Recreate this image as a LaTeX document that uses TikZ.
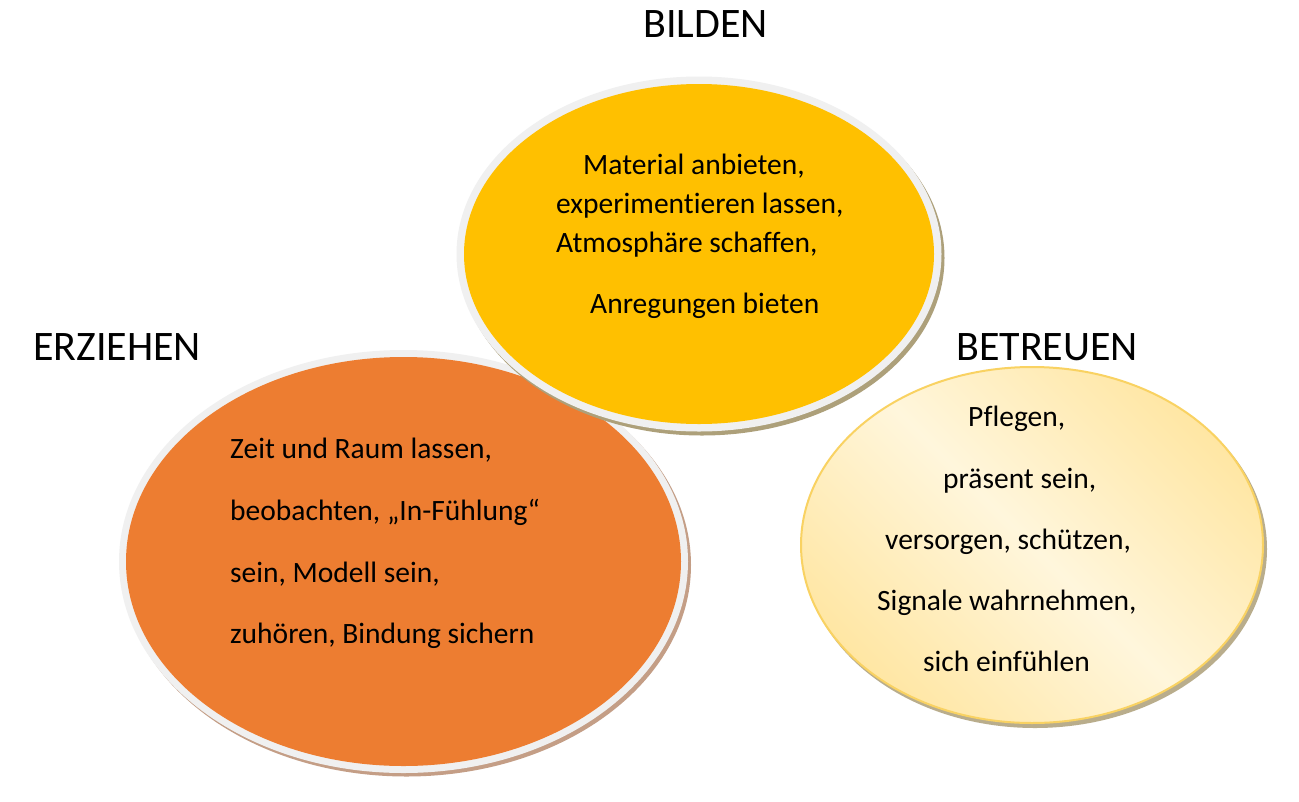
\documentclass[tikz,border=0pt]{standalone}
\usepackage{fontspec}
\setmainfont{Carlito}[Ligatures={NoCommon}]
\usetikzlibrary{shapes.geometric}
\definecolor{erzorange}{HTML}{ED7D31}
\definecolor{bildgold}{HTML}{FFC000}
\definecolor{rimgray}{HTML}{F0F0F0}
\definecolor{erzshadow}{HTML}{C49E86}
\definecolor{bildshadow}{HTML}{ADA07A}
\definecolor{betrshadow}{HTML}{B9AD8C}
\definecolor{betrline}{HTML}{F9D262}
\definecolor{betrdark}{HTML}{FFE294}
\definecolor{betrlight}{HTML}{FFF6DC}
\pgfdeclareverticalshading{betrshade}{100bp}{color(0bp)=(betrdark); color(18bp)=(betrdark); color(50bp)=(betrlight); color(82bp)=(betrdark); color(100bp)=(betrdark)}
\tikzset{
  blob/.style={ellipse, inner sep=0pt, outer sep=0pt, draw=none},
  title/.style={anchor=base west, inner sep=0pt, font=\fontsize{42}{50}\selectfont},
  line/.style={anchor=base west, inner sep=0pt, font=\fontsize{29.5}{35}\selectfont},
}
\begin{document}
\begin{tikzpicture}[x=1pt,y=-1pt]
\useasboundingbox[fill=white] (0,0) rectangle (1299,801);

% ERZIEHEN ellipse
\fill[erzshadow] (406.5,565) ellipse [x radius=284.5, y radius=211.5];
\fill[rimgray] (403.5,561.5) ellipse [x radius=284.5, y radius=211.5];
\node[blob, fill=erzorange, minimum width=555, minimum height=409] (erz) at (403.5,561.5) {};

% BILDEN ellipse
\fill[bildshadow] (702,258) ellipse [x radius=242.5, y radius=177.5];
\fill[rimgray] (699,254) ellipse [x radius=242.5, y radius=177.5];
\node[blob, fill=bildgold, minimum width=470, minimum height=340] (bild) at (699,254) {};

% BETREUEN ellipse
\fill[betrshadow] (1035,549) ellipse [x radius=232, y radius=179];
\node[blob, draw=betrline, line width=2pt, shading=betrshade, shading angle=-45, minimum width=462, minimum height=356] (betr) at (1032,545) {};

% titles
\node[title] (tbild) at (643,37) {BILDEN};
\node[title] (terz) at (33,360) {ERZIEHEN};
\node[title] (tbetr) at (956,360) {BETREUEN};

% BILDEN text
\node[line] (b1) at (583,174) {Material anbieten,};
\node[line] (b2) at (556,213) {experimentieren lassen,};
\node[line] (b3) at (556,252) {Atmosphäre schaffen,};
\node[line] (b4) at (590,313) {Anregungen bieten};

% ERZIEHEN text
\node[line] (e1) at (230,458) {Zeit und Raum lassen,};
\node[line] (e2) at (230,520) {beobachten, „In-Fühlung“};
\node[line] (e3) at (230,582) {sein, Modell sein,};
\node[line] (e4) at (230,643) {zuhören, Bindung sichern};

% BETREUEN text
\node[line] (r1) at (968,426) {Pflegen,};
\node[line] (r2) at (943,488) {präsent sein,};
\node[line] (r3) at (885,549) {versorgen, schützen,};
\node[line] (r4) at (877,610) {Signale wahrnehmen,};
\node[line] (r5) at (923,671) {sich einfühlen};
\end{tikzpicture}
\end{document}
